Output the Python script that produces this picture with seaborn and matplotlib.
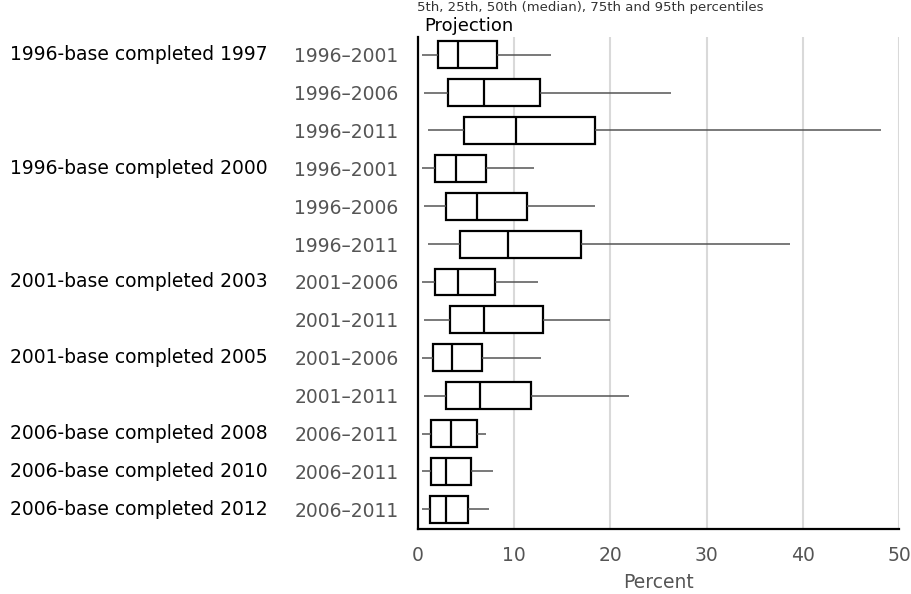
import numpy as np
import pandas as pd
import matplotlib
matplotlib.use("Agg")
import matplotlib.pyplot as plt
import matplotlib.transforms as mtransforms
import seaborn as sns

# Group labels (first column), one per row ('' where the group continues)
groups = ["1996-base completed 1997", "", "",
          "1996-base completed 2000", "", "",
          "2001-base completed 2003", "",
          "2001-base completed 2005", "",
          "2006-base completed 2008",
          "2006-base completed 2010",
          "2006-base completed 2012"]
projections = ["1996\u20132001", "1996\u20132006", "1996\u20132011",
               "1996\u20132001", "1996\u20132006", "1996\u20132011",
               "2001\u20132006", "2001\u20132011",
               "2001\u20132006", "2001\u20132011",
               "2006\u20132011", "2006\u20132011", "2006\u20132011"]

# percentiles (percent)
p5 = [0.4, 0.6, 1.0, 0.4, 0.6, 1.0, 0.4, 0.6, 0.4, 0.6, 0.4, 0.4, 0.4]
p25 = [2.1, 3.1, 4.8, 1.8, 2.9, 4.4, 1.8, 3.3, 1.6, 2.9, 1.4, 1.4, 1.2]
p50 = [4.2, 6.9, 10.2, 4.0, 6.1, 9.4, 4.2, 6.9, 3.5, 6.4, 3.4, 2.9, 2.9]
p75 = [8.2, 12.7, 18.4, 7.1, 11.3, 16.9, 8.0, 13.0, 6.7, 11.7, 6.1, 5.5, 5.2]
p95 = [13.8, 26.3, 48.1, 12.1, 18.4, 38.7, 12.5, 20.0, 12.8, 21.9, 7.1, 7.8, 7.4]

xticks = [0, 10, 20, 30, 40, 50]

row_ids = [f"r{i}" for i in range(len(projections))]
records = []
for rid, a, b, c, d, e in zip(row_ids, p5, p25, p50, p75, p95):
    for v in (a, b, c, d, e):
        records.append({"row": rid, "value": v})
df = pd.DataFrame(records)

sns.set_theme(style="white")
plt.rcParams["font.family"] = ["DejaVu Sans"]

W, H = 911, 594
fig = plt.figure(figsize=(W / 100, H / 100), dpi=100)
ax = fig.add_axes([418 / W, 1 - 529 / H, (899 - 418) / W, (529 - 36.7) / H])

sns.boxplot(data=df, x="value", y="row", order=row_ids, whis=(0, 100),
            width=0.71, showcaps=False, fill=True, color="white",
            linecolor="black", linewidth=1.6,
            whiskerprops=dict(color="#555555", linewidth=1.1),
            medianprops=dict(color="black", linewidth=1.6),
            ax=ax, zorder=3)

ax.set_xlim(0, 50)
ax.set_ylim(len(row_ids) - 0.48, -0.475)
ax.set_xticks(xticks)
ax.set_xticklabels([str(t) for t in xticks], color="#555555", fontsize=13.5)
ax.set_yticks(range(len(row_ids)))
ax.set_yticklabels(projections, color="#555555", fontsize=13.5)
ax.tick_params(axis="y", length=0, pad=14)
ax.tick_params(axis="x", length=0, pad=12)
ax.set_ylabel("")
ax.set_xlabel("Percent", color="#555555", fontsize=13.5, labelpad=6)

ax.grid(axis="x", color="#d9d9d9", linewidth=1.5, zorder=0)
ax.set_axisbelow(True)
for s in ["top", "right"]:
    ax.spines[s].set_visible(False)
for s in ["left", "bottom"]:
    ax.spines[s].set_color("black")
    ax.spines[s].set_linewidth(1.6)
    ax.spines[s].set_zorder(5)

trans = mtransforms.blended_transform_factory(fig.transFigure, ax.transData)
for i, g in enumerate(groups):
    if g:
        ax.text(10 / W, i, g, transform=trans, ha="left", va="center",
                fontsize=13.5, color="black")

fig.text(424 / W, 1 - 31 / H, "Projection", ha="left", va="baseline",
         fontsize=13, color="black")
fig.text(590 / W, 1 - 1 / H, "5th, 25th, 50th (median), 75th and 95th percentiles",
         ha="center", va="top", fontsize=9.5, color="#333333")

fig.savefig("out.png", dpi=100)
